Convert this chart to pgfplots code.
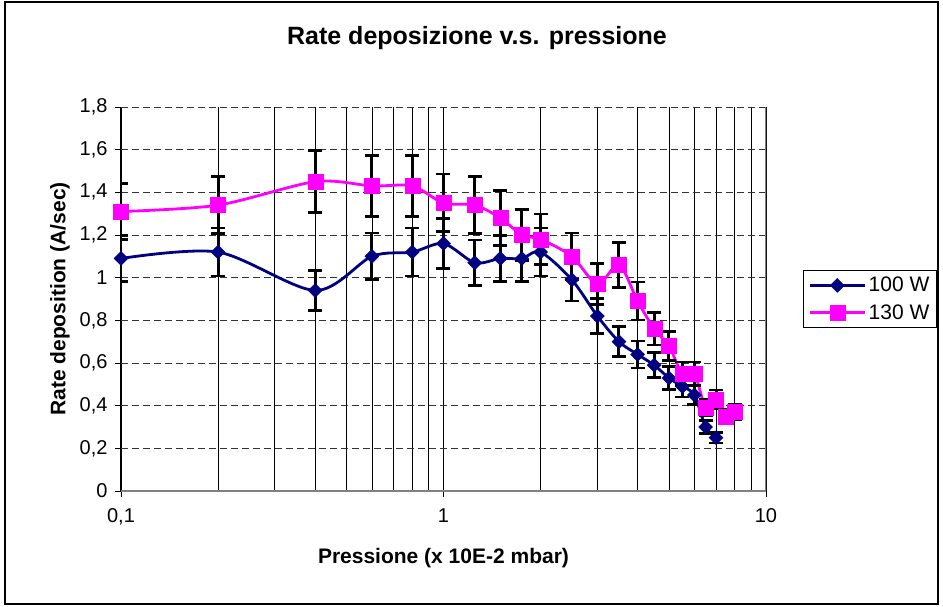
\documentclass[border=0pt]{standalone}
\usepackage{fontspec}
\setmainfont{Liberation Sans}
\usepackage{pgfplots}
\usepackage{pgfplotstable}
\pgfplotsset{compat=1.18}
\definecolor{navyline}{RGB}{0,0,128}
\definecolor{pinkline}{RGB}{255,0,255}

% pressure, rate, error (about 10 %)
\pgfplotstableread{
x    y    e
0.1  1.09 0.109
0.2  1.12 0.112
0.4  0.94 0.094
0.6  1.10 0.110
0.8  1.12 0.112
1.0  1.16 0.116
1.25 1.07 0.107
1.5  1.09 0.109
1.75 1.09 0.109
2.0  1.12 0.112
2.5  0.99 0.099
3.0  0.82 0.082
3.5  0.70 0.070
4.0  0.64 0.064
4.5  0.59 0.059
5.0  0.53 0.053
5.5  0.49 0.049
6.0  0.45 0.045
6.5  0.30 0.030
7.0  0.25 0.025
}\hundred

\pgfplotstableread{
x    y    e
0.1  1.31 0.131
0.2  1.34 0.134
0.4  1.45 0.145
0.6  1.43 0.143
0.8  1.43 0.143
1.0  1.35 0.135
1.25 1.34 0.134
1.5  1.28 0.128
1.75 1.20 0.120
2.0  1.18 0.118
2.5  1.10 0.110
3.0  0.97 0.097
3.5  1.06 0.106
4.0  0.89 0.089
4.5  0.76 0.076
5.0  0.68 0.068
5.5  0.55 0.055
6.0  0.55 0.055
6.5  0.39 0.039
7.0  0.43 0.043
7.5  0.35 0.035
8.0  0.37 0.037
}\hundredthirty

\begin{document}
\begin{tikzpicture}
\useasboundingbox (0,0) rectangle (943pt,607pt);
\draw[line width=1.5pt] (5pt,3pt) rectangle (938pt,605pt);
\node[font=\fontsize{25}{30}\selectfont\bfseries] at (477pt,569pt) {Rate deposizione v.s. pressione};
\begin{axis}[
    at={(121pt,116pt)}, anchor=south west,
    scale only axis, width=645pt, height=384pt,
    xmode=log, xmin=0.1, xmax=10, ymin=0, ymax=1.8,
    xtick={0.1,1,10}, xticklabels={{0,1},1,10},
    minor xtick={0.2,0.3,0.4,0.5,0.6,0.7,0.8,0.9,2,3,4,5,6,7,8,9},
    ytick={0,0.2,0.4,0.6,0.8,1,1.2,1.4,1.6,1.8},
    yticklabels={0,{0,2},{0,4},{0,6},{0,8},1,{1,2},{1,4},{1,6},{1,8}},
    xmajorgrids, xminorgrids, ymajorgrids,
    major x grid style={black, line width=0.8pt},
    minor x grid style={black, line width=0.8pt},
    major y grid style={black!80, line width=0.8pt, dash pattern=on 7pt off 4pt},
    axis x line*=bottom, axis y line*=left,
    x axis line style={-, gray, line width=1.6pt},
    y axis line style={-, black, line width=1pt},
    tick align=outside, major tick length=6pt, minor tick length=0pt,
    tick style={black, line width=0.8pt},
    ticklabel style={font=\fontsize{20}{24}\selectfont},
    xticklabel style={yshift=-8pt},
    yticklabel style={xshift=-4pt},
    xlabel={Pressione (x 10E-2 mbar)},
    ylabel={Rate deposition (A/sec)},
    label style={font=\fontsize{21}{25}\selectfont\bfseries},
    xlabel style={yshift=-16pt},
    ylabel style={yshift=3pt},
    legend style={at={(1.265,0.50)}, anchor=east, draw=black, line width=1pt,
        font=\fontsize{21}{25}\selectfont, row sep=7pt, inner sep=5pt,
        nodes={inner sep=2pt}},
    legend cell align=left,
    legend image code/.code={
        \draw[#1, mark repeat=2, mark phase=2] plot coordinates {(0pt,0pt) (27pt,0pt) (55pt,0pt)};},
    error bars/y dir=both, error bars/y explicit,
    error bars/error bar style={black, line width=3pt, solid},
    error bars/error mark options={rotate=90, black, line width=2.6pt, mark size=7pt},
]
\addplot[navyline, line width=2.8pt, smooth, mark=square*, mark size=5pt,
    mark options={rotate=45, fill=navyline, draw=navyline, line width=0.3pt}]
    table[x=x, y=y, y error=e] {\hundred};
\addlegendentry{100 W}
\addplot[pinkline, line width=2.8pt, smooth, mark=square*, mark size=7.5pt,
    mark options={fill=pinkline, draw=pinkline, line width=0.3pt}]
    table[x=x, y=y, y error=e] {\hundredthirty};
\addlegendentry{130 W}
\draw[gray, line width=1.6pt] (rel axis cs:1,0) -- (rel axis cs:1,1);
\end{axis}
\end{tikzpicture}
\end{document}
